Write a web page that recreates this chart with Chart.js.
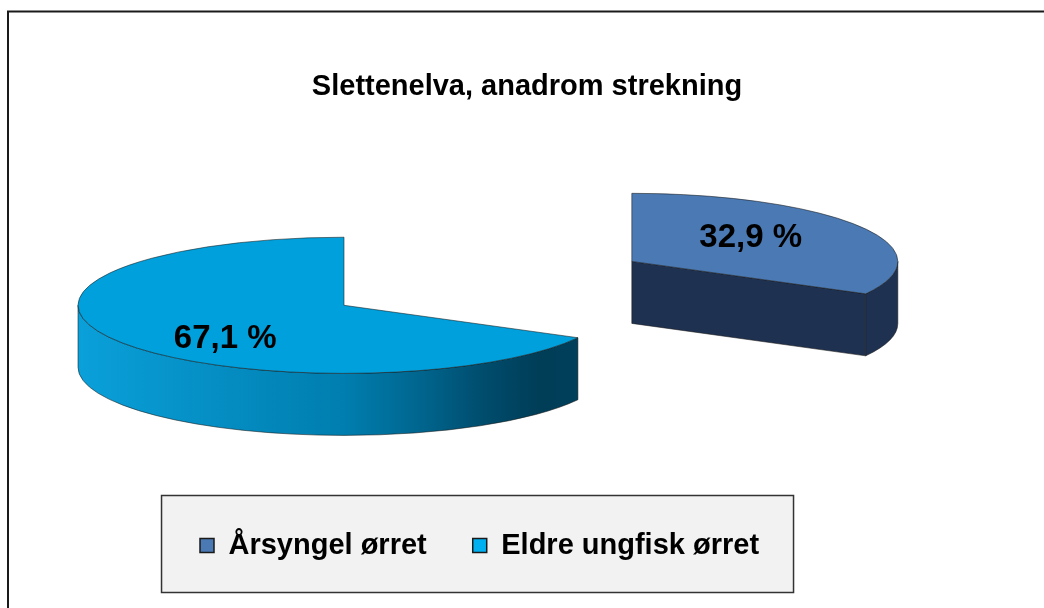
<!DOCTYPE html>
<html><head><meta charset="utf-8">
<script src="https://cdn.jsdelivr.net/npm/chart.js@4.4.1/dist/chart.umd.min.js"></script>
<style>html,body{margin:0;padding:0;background:#fff;overflow:hidden}</style>
</head><body>
<canvas id="c" width="1044" height="608"></canvas>
<script>
// ---- data ----
const categories = ['Årsyngel ørret', 'Eldre ungfisk ørret'];
const shares = [32.9, 67.1];
const chartTitle = 'Slettenelva, anadrom strekning';

// ---- styles ----
const FONT = "'Liberation Sans', Arial, sans-serif";
const topColors = ['#4A79B3', '#00A0DC'];
const legendColors = ['#4A79B3', '#00B0F0'];
const TILT = 0.256;        // vertical squash of the disc
const DEPTH = 62;          // disc thickness (px)
const LIFT = 22;           // elevation of top face above pivot
const EXPLODE = [122, 213];// explode distance per slice
const RADIUS = 266;

function sideStyle(ctx, i, x0, x1) {
  if (i === 0) return '#1F3150';
  const g = ctx.createLinearGradient(x0, 0, x1, 0);
  g.addColorStop(0.00, '#0AA0DA');
  g.addColorStop(0.33, '#0389BD');
  g.addColorStop(0.50, '#007EAF');
  g.addColorStop(0.64, '#00668F');
  g.addColorStop(0.77, '#004B6B');
  g.addColorStop(0.87, '#003D57');
  g.addColorStop(1.00, '#00425E');
  return g;
}

function visibleRanges(s, e) {
  const out = [];
  for (let k = -2; k <= 2; k++) {
    const lo = Math.max(s, 2 * Math.PI * k), hi = Math.min(e, 2 * Math.PI * k + Math.PI);
    if (hi > lo) out.push([lo, hi]);
  }
  return out;
}

const pie3d = {
  id: 'pie3d',
  beforeDraw(chart) {
    const ctx = chart.ctx;
    ctx.save();
    ctx.fillStyle = '#fff';
    ctx.fillRect(0, 0, chart.width, chart.height);
    ctx.strokeStyle = '#1a1a1a';
    ctx.lineWidth = 2;
    ctx.strokeRect(8, 11.5, chart.width + 40, chart.height + 40);
    const lg = chart.legend;
    if (lg && lg.legendHitBoxes && lg.legendHitBoxes.length) {
      const hb = lg.legendHitBoxes;
      const first = hb[0], last = hb[hb.length - 1];
      const cyL = first.top + first.height / 2;
      const cxL = (first.left + last.left + last.width) / 2 - 2;
      const w = 632, h = 97;
      ctx.fillStyle = '#F2F2F2';
      ctx.fillRect(cxL - w / 2, cyL - 50, w, h);
      ctx.strokeStyle = '#333';
      ctx.lineWidth = 1.5;
      ctx.strokeRect(cxL - w / 2, cyL - 50, w, h);
    }
    ctx.restore();
  },
  beforeDatasetsDraw(chart) {
    const ctx = chart.ctx;
    const meta = chart.getDatasetMeta(0);
    const values = chart.data.datasets[0].data;
    meta.data.forEach((arc, i) => {
      const p = arc.getProps(['x', 'y', 'startAngle', 'endAngle', 'outerRadius'], true);
      const s = p.startAngle, e = p.endAngle;
      const mid = (s + e) / 2;
      const ox = Math.cos(mid) * EXPLODE[i], oy = Math.sin(mid) * EXPLODE[i];
      const cx = p.x + ox;
      const cy = p.y - LIFT + oy * TILT;
      const rx = p.outerRadius, ry = p.outerRadius * TILT;

      ctx.save();
      ctx.strokeStyle = 'rgba(25,25,25,0.55)';
      ctx.lineWidth = 1;
      ctx.lineJoin = 'round';
      // radial faces
      const faces = [];
      if (Math.cos(e) > 0.001) faces.push(e);
      if (-Math.cos(s) > 0.001) faces.push(s);
      faces.forEach(th => {
        ctx.beginPath();
        ctx.moveTo(cx, cy);
        ctx.lineTo(cx + rx * Math.cos(th), cy + ry * Math.sin(th));
        ctx.lineTo(cx + rx * Math.cos(th), cy + ry * Math.sin(th) + DEPTH);
        ctx.lineTo(cx, cy + DEPTH);
        ctx.closePath();
        ctx.fillStyle = sideStyle(ctx, i, cx - rx, cx + rx);
        ctx.fill();
        ctx.stroke();
      });
      // outer rim
      visibleRanges(s, e).forEach(([a0, a1]) => {
        ctx.beginPath();
        ctx.ellipse(cx, cy, rx, ry, 0, a0, a1, false);
        ctx.ellipse(cx, cy + DEPTH, rx, ry, 0, a1, a0, true);
        ctx.closePath();
        ctx.fillStyle = sideStyle(ctx, i, cx - rx, cx + rx);
        ctx.fill();
        ctx.stroke();
      });
      // top face drawn by the library's arc element
      ctx.save();
      ctx.translate(0, p.y - LIFT);
      ctx.scale(1, TILT);
      ctx.translate(ox, oy - p.y);
      arc.draw(ctx);
      ctx.restore();
      ctx.beginPath();
      ctx.moveTo(cx, cy);
      ctx.ellipse(cx, cy, rx, ry, 0, s, e, false);
      ctx.closePath();
      ctx.stroke();
      ctx.restore();

      // label
      const txt = values[i].toFixed(1).replace('.', ',') + ' %';
      ctx.save();
      ctx.font = 'bold 33px ' + FONT;
      ctx.fillStyle = '#000';
      ctx.textAlign = 'center';
      ctx.textBaseline = 'middle';
      ctx.fillText(txt, cx + 0.52 * rx * Math.cos(mid), cy + 0.52 * rx * Math.sin(mid) * 0.4 + 5);
      ctx.restore();
    });
    return false;
  }
};

new Chart(document.getElementById('c'), {
  type: 'pie',
  data: {
    labels: categories,
    datasets: [{
      data: shares,
      backgroundColor: topColors,
      borderWidth: 0,
      radius: RADIUS
    }]
  },
  options: {
    responsive: false,
    animation: false,
    devicePixelRatio: 1,
    layout: { padding: { left: 154, right: 144, top: 12, bottom: 38 } },
    plugins: {
      tooltip: { enabled: false },
      title: {
        display: true,
        text: chartTitle,
        color: '#000',
        font: { family: FONT, size: 29, weight: 'bold' },
        padding: { top: 58, bottom: 9 }
      },
      legend: {
        position: 'bottom',
        align: 'start',
        labels: {
          color: '#000',
          font: { family: FONT, size: 29, weight: 'bold' },
          boxWidth: 14,
          boxHeight: 14,
          padding: 46,
          generateLabels(chart) {
            const items = Chart.overrides.pie.plugins.legend.labels.generateLabels(chart);
            items.forEach((it, i) => {
              it.fillStyle = legendColors[i];
              it.strokeStyle = '#1a1a1a';
              it.lineWidth = 1.5;
            });
            return items;
          }
        }
      }
    }
  },
  plugins: [pie3d]
});
</script>
</body></html>
